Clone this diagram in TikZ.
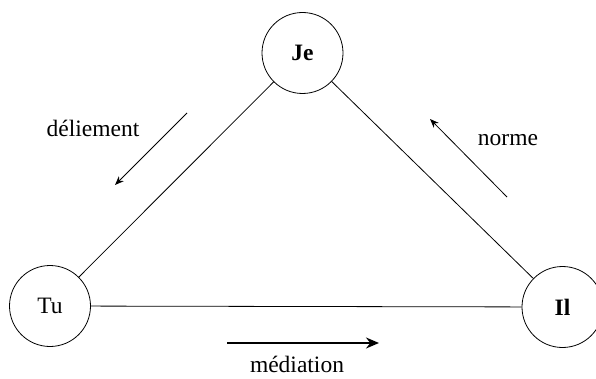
\documentclass[tikz,border=0pt]{standalone}
\usepackage{fontspec}
\setmainfont{Liberation Serif}
\usetikzlibrary{arrows.meta}
\begin{document}
\begin{tikzpicture}[x=1pt,y=-1pt,
  pole/.style={draw, circle, minimum size=81pt, inner sep=0pt, line width=0.8pt},
  lbl/.style={font=\fontsize{23.5}{27}\selectfont},
  link/.style={line width=0.8pt},
  flow/.style={line width=0.8pt, -{Stealth[length=9pt,width=7pt]}},
  bigflow/.style={line width=1.6pt, -{Stealth[length=13pt,width=11pt]}}]
  \useasboundingbox (0,0) rectangle (596,379);
  % the three poles
  \node[pole, lbl] (je) at (302.5,53) {\textbf{Je}};
  \node[pole, lbl] (tu) at (50,306) {Tu};
  \node[pole, lbl] (il) at (562.5,307) {\textbf{Il}};
  % sides of the triangle
  \draw[link] (je) -- (tu);
  \draw[link] (je) -- (il);
  \draw[link] (tu) -- (il);
  % movements along the sides
  \coordinate (d1) at (187,113);
  \coordinate (d2) at (115,185);
  \draw[flow] (d1) -- (d2);
  \coordinate (n1) at (507,197);
  \coordinate (n2) at (430,119);
  \draw[flow] (n1) -- (n2);
  \coordinate (m1) at (227,343);
  \coordinate (m2) at (379,343);
  \draw[bigflow] (m1) -- (m2);
  % labels
  \node[lbl] (tdel) at (93,128) {déliement};
  \node[lbl] (tnor) at (508,140) {norme};
  \node[lbl, anchor=base, inner sep=0pt] (tmed) at (297,372) {médiation};
\end{tikzpicture}
\end{document}
